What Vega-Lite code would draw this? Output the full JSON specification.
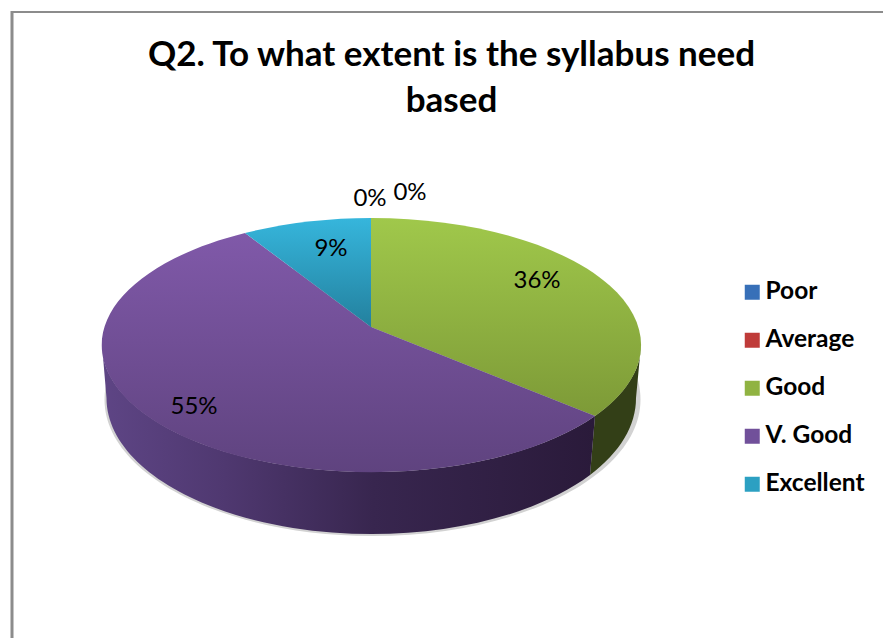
{"$schema":"https://vega.github.io/schema/vega-lite/v6.json","width":883,"height":638,"padding":0,"autosize":{"type":"none"},"background":"white","view":{"stroke":null},
"title":{"text":["Q2. To what extent is the syllabus need","based"],"anchor":"middle","frame":"group","font":"Lato","fontSize":35,"fontWeight":"bold","color":"#000000","lineHeight":46,"dx":10,"dy":119,"offset":0},
"datasets":{"d":[{"category":"Poor","share":0},{"category":"Average","share":0},{"category":"Good","share":0.36},{"category":"V. Good","share":0.55},{"category":"Excellent","share":0.09}]},
"data":{"name":"d"},
"layer":[
{"transform":[{"filter":"datum.category==='V. Good'"}],"mark":{"type":"point","filled":true,"opacity":1,"size":4,"fill":"#d2d2d2","strokeWidth":0,"shape":"M-268,0A268,136.5 0 1 1 268,0A268,136.5 0 1 1 -268,0Z"},"encoding":{"x":{"datum":372.5,"type":"quantitative","scale":{"domain":[0,883],"nice":false},"axis":null},"y":{"datum":399.5,"type":"quantitative","scale":{"domain":[0,638],"nice":false,"reverse":true},"axis":null}}},
{"transform":[{"filter":"datum.category==='Good'"}],"mark":{"type":"point","filled":true,"opacity":1,"size":4,"strokeWidth":0,"fill":"#333f17","shape":"M224,89A269.5,127 0 0 0 270,18L265,71A265,136 0 0 1 219,148Z"},"encoding":{"x":{"datum":371,"type":"quantitative","scale":{"domain":[0,883],"nice":false},"axis":null},"y":{"datum":327,"type":"quantitative","scale":{"domain":[0,638],"nice":false,"reverse":true},"axis":null}}},
{"transform":[{"filter":"datum.category==='V. Good'"}],"mark":{"type":"point","filled":true,"opacity":1,"size":4,"strokeWidth":0,"fill":{"gradient":"linear","x1":0,"y1":0,"x2":1,"y2":0,"stops":[{"offset":0,"color":"#5e4585"},{"offset":0.25,"color":"#4f3870"},{"offset":0.55,"color":"#38264f"},{"offset":1,"color":"#2a1a3a"}]},"shape":"M-269,18A269.5,127 0 0 0 224,89L219,148A265,136 0 0 1 -264.5,71Z"},"encoding":{"x":{"datum":371,"type":"quantitative","scale":{"domain":[0,883],"nice":false},"axis":null},"y":{"datum":327,"type":"quantitative","scale":{"domain":[0,638],"nice":false,"reverse":true},"axis":null}}},
{"mark":{"type":"point","filled":true,"opacity":1,"size":4,"strokeWidth":0,"shape":"square"},"encoding":{"x":{"datum":371,"type":"quantitative","scale":{"domain":[0,883],"nice":false},"axis":null},"y":{"datum":327,"type":"quantitative","scale":{"domain":[0,638],"nice":false,"reverse":true},"axis":null},
"color":{"field":"category","type":"nominal","scale":{"domain":["Poor","Average","Good","V. Good","Excellent"],"range":["#3770b8","#bf3b39","#90b342","#71509a","#2ca0c2"]},
"legend":{"title":null,"orient":"none","legendX":740,"legendY":280,"padding":0,"symbolType":"square","symbolSize":225,"symbolStrokeWidth":0,"labelFont":"Lato","labelFontSize":24.5,"labelFontWeight":"bold","labelColor":"#000000","labelOffset":1,"rowPadding":23,"labelLimit":200}}}},
{"transform":[{"filter":"datum.category==='Good'"}],"mark":{"type":"point","filled":true,"opacity":1,"size":4,"strokeWidth":0,"shape":"M0,0L0,-109A269.5,127 0 0 1 224,89Z","fill":{"gradient":"linear","x1":0,"y1":0,"x2":0,"y2":1,"stops":[{"offset":0,"color":"#a0c84b"},{"offset":1,"color":"#7d9a37"}]}},"encoding":{"x":{"datum":371,"type":"quantitative","scale":{"domain":[0,883],"nice":false},"axis":null},"y":{"datum":327,"type":"quantitative","scale":{"domain":[0,638],"nice":false,"reverse":true},"axis":null}}},
{"transform":[{"filter":"datum.category==='V. Good'"}],"mark":{"type":"point","filled":true,"opacity":1,"size":4,"strokeWidth":0,"shape":"M0,0L-126,-94A269.5,127 0 1 0 224,89Z","fill":{"gradient":"linear","x1":0,"y1":0,"x2":0,"y2":1,"stops":[{"offset":0,"color":"#8059a9"},{"offset":1,"color":"#5f437f"}]}},"encoding":{"x":{"datum":371,"type":"quantitative","scale":{"domain":[0,883],"nice":false},"axis":null},"y":{"datum":327,"type":"quantitative","scale":{"domain":[0,638],"nice":false,"reverse":true},"axis":null}}},
{"transform":[{"filter":"datum.category==='Excellent'"}],"mark":{"type":"point","filled":true,"opacity":1,"size":4,"strokeWidth":0,"shape":"M0,0L0,-109A269.5,127 0 0 0 -126,-94Z","fill":{"gradient":"linear","x1":0,"y1":0,"x2":0,"y2":1,"stops":[{"offset":0,"color":"#36b6dc"},{"offset":1,"color":"#23809e"}]}},"encoding":{"x":{"datum":371,"type":"quantitative","scale":{"domain":[0,883],"nice":false},"axis":null},"y":{"datum":327,"type":"quantitative","scale":{"domain":[0,638],"nice":false,"reverse":true},"axis":null}}},
{"transform":[{"filter":"datum.category==='Poor'"}],"mark":{"type":"text","font":"Lato","fontSize":24,"color":"#000000","align":"center","baseline":"middle"},"encoding":{"text":{"field":"share","format":".0%"},"x":{"datum":370,"type":"quantitative","scale":{"domain":[0,883],"nice":false},"axis":null},"y":{"datum":199,"type":"quantitative","scale":{"domain":[0,638],"nice":false,"reverse":true},"axis":null}}},
{"transform":[{"filter":"datum.category==='Average'"}],"mark":{"type":"text","font":"Lato","fontSize":24,"color":"#000000","align":"center","baseline":"middle"},"encoding":{"text":{"field":"share","format":".0%"},"x":{"datum":410,"type":"quantitative","scale":{"domain":[0,883],"nice":false},"axis":null},"y":{"datum":193,"type":"quantitative","scale":{"domain":[0,638],"nice":false,"reverse":true},"axis":null}}},
{"transform":[{"filter":"datum.category==='Good'"}],"mark":{"type":"text","font":"Lato","fontSize":24,"color":"#000000","align":"center","baseline":"middle"},"encoding":{"text":{"field":"share","format":".0%"},"x":{"datum":537,"type":"quantitative","scale":{"domain":[0,883],"nice":false},"axis":null},"y":{"datum":281,"type":"quantitative","scale":{"domain":[0,638],"nice":false,"reverse":true},"axis":null}}},
{"transform":[{"filter":"datum.category==='V. Good'"}],"mark":{"type":"text","font":"Lato","fontSize":24,"color":"#000000","align":"center","baseline":"middle"},"encoding":{"text":{"field":"share","format":".0%"},"x":{"datum":194,"type":"quantitative","scale":{"domain":[0,883],"nice":false},"axis":null},"y":{"datum":407,"type":"quantitative","scale":{"domain":[0,638],"nice":false,"reverse":true},"axis":null}}},
{"transform":[{"filter":"datum.category==='Excellent'"}],"mark":{"type":"text","font":"Lato","fontSize":24,"color":"#000000","align":"center","baseline":"middle"},"encoding":{"text":{"field":"share","format":".0%"},"x":{"datum":331,"type":"quantitative","scale":{"domain":[0,883],"nice":false},"axis":null},"y":{"datum":249,"type":"quantitative","scale":{"domain":[0,638],"nice":false,"reverse":true},"axis":null}}},
{"data":{"values":[{}]},"mark":{"type":"rule","color":"#8c8c8c","strokeWidth":2},"encoding":{"x":{"datum":11,"type":"quantitative","scale":{"domain":[0,883],"nice":false},"axis":null},"x2":{"datum":883},"y":{"datum":12,"type":"quantitative","scale":{"domain":[0,638],"nice":false,"reverse":true},"axis":null}}},
{"data":{"values":[{}]},"mark":{"type":"rule","color":"#8c8c8c","strokeWidth":3},"encoding":{"x":{"datum":12,"type":"quantitative","scale":{"domain":[0,883],"nice":false},"axis":null},"y":{"datum":11,"type":"quantitative","scale":{"domain":[0,638],"nice":false,"reverse":true},"axis":null},"y2":{"datum":638}}}
]}
